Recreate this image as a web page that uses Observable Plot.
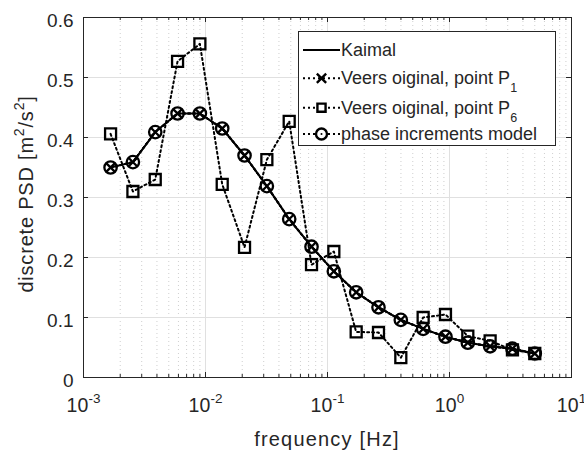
<!DOCTYPE html>
<html><head><meta charset="utf-8">
<script src="https://cdn.jsdelivr.net/npm/d3@7"></script>
<script src="https://cdn.jsdelivr.net/npm/@observablehq/plot@0.6"></script>
<style>body{margin:0;background:#fff} svg{display:block}</style>
</head><body><div id="chart"></div>
<script>
// ---- data ----
const freq = [0.001667, 0.002541, 0.003873, 0.005902, 0.008995, 0.01371, 0.02089, 0.03184, 0.04853, 0.07396,
              0.1127, 0.1718, 0.2618, 0.3990, 0.6081, 0.9268, 1.413, 2.153, 3.281, 5.0];
const kaimal   = [0.350, 0.359, 0.409, 0.440, 0.440, 0.415, 0.370, 0.319, 0.264, 0.218,
                  0.177, 0.142, 0.117, 0.096, 0.081, 0.068, 0.058, 0.052, 0.048, 0.040];
const veersP1  = [0.350, 0.359, 0.409, 0.440, 0.440, 0.415, 0.370, 0.319, 0.264, 0.218,
                  0.177, 0.142, 0.117, 0.096, 0.081, 0.068, 0.058, 0.052, 0.048, 0.040];
const veersP6  = [0.406, 0.310, 0.330, 0.527, 0.556, 0.322, 0.217, 0.363, 0.427, 0.188,
                  0.210, 0.076, 0.075, 0.033, 0.100, 0.105, 0.069, 0.061, 0.046, 0.040];
const phaseInc = [0.350, 0.359, 0.409, 0.440, 0.440, 0.415, 0.370, 0.319, 0.264, 0.218,
                  0.177, 0.142, 0.117, 0.096, 0.081, 0.068, 0.058, 0.052, 0.048, 0.040];
const xMajorTicks = [0.001, 0.01, 0.1, 1, 10];
const xTickExponents = ["-3", "-2", "-1", "0", "1"];
const xMinorTicks = [2,3,4,5,6,7,8,9].flatMap(m => [0.001, 0.01, 0.1, 1].map(d => m * d));
const yTicks = [0, 0.1, 0.2, 0.3, 0.4, 0.5, 0.6];
const yTickLabels = ["0", "0.1", "0.2", "0.3", "0.4", "0.5", "0.6"];
const legendNames = ["Kaimal", "Veers oiginal, point P", "Veers oiginal, point P", "phase increments model"];
const legendSubs = ["", "1", "6", ""];
const xLabel = "frequency [Hz]";

const rows = vals => freq.map((f, i) => ({f, v: vals[i]}));

// ---- layout ----
const W = 584, H = 451, mL = 83, mR = 13, mT = 17, mB = 74;
const innerW = W - mL - mR, innerH = H - mT - mB;
const FONT = "'Liberation Sans', Arial, Helvetica, sans-serif";
const ink = "#262626";
const dots = "2,3";

const plot = Plot.plot({
  width: W, height: H,
  marginLeft: mL, marginRight: mR, marginTop: mT, marginBottom: mB,
  style: {fontFamily: FONT, fontSize: "19px", color: ink, background: "#fff", overflow: "visible"},
  x: {type: "log", domain: [0.001, 10]},
  y: {domain: [0, 0.6]},
  marks: [
    Plot.ruleX(xMinorTicks, {stroke: "#cfcfcf", strokeWidth: 1, strokeDasharray: "1,3"}),
    Plot.ruleX(xMajorTicks, {stroke: "#e0e0e0", strokeWidth: 1}),
    Plot.ruleY(yTicks, {stroke: "#e0e0e0", strokeWidth: 1}),
    // inward ticks
    Plot.tickX(xMajorTicks, {x: d => d, stroke: ink, insetTop: innerH - 5}),
    Plot.tickX(xMajorTicks, {x: d => d, stroke: ink, insetBottom: innerH - 5}),
    Plot.tickX(xMinorTicks, {x: d => d, stroke: ink, insetTop: innerH - 3}),
    Plot.tickX(xMinorTicks, {x: d => d, stroke: ink, insetBottom: innerH - 3}),
    Plot.tickY(yTicks, {y: d => d, stroke: ink, insetRight: innerW - 5}),
    Plot.tickY(yTicks, {y: d => d, stroke: ink, insetLeft: innerW - 5}),
    Plot.axisX(xMajorTicks, {tickSize: 0, tickPadding: 21, fontSize: 19.5,
      tickFormat: d => "10^" + xTickExponents[xMajorTicks.indexOf(d)], label: null}),
    Plot.axisY(yTicks, {tickSize: 0, tickPadding: 10, fontSize: 19, dy: 3,
      tickFormat: d => yTickLabels[yTicks.indexOf(d)], label: null}),
    Plot.frame({stroke: ink, strokeWidth: 1}),
    // series
    Plot.line(rows(kaimal), {x: "f", y: "v", stroke: "#000", strokeWidth: 2}),
    Plot.line(rows(veersP1), {x: "f", y: "v", stroke: "#000", strokeWidth: 2, strokeDasharray: dots}),
    Plot.dot(rows(veersP1), {x: "f", y: "v", symbol: "times", r: 4.3, stroke: "#000", strokeWidth: 2.3}),
    Plot.line(rows(veersP6), {x: "f", y: "v", stroke: "#000", strokeWidth: 2, strokeDasharray: dots}),
    Plot.dot(rows(veersP6), {x: "f", y: "v", symbol: "square", r: 6.2, stroke: "#000", strokeWidth: 2.3, fill: "none"}),
    Plot.line(rows(phaseInc), {x: "f", y: "v", stroke: "#000", strokeWidth: 2, strokeDasharray: dots}),
    Plot.dot(rows(phaseInc), {x: "f", y: "v", symbol: "circle", r: 6.2, stroke: "#000", strokeWidth: 2.3, fill: "none"})
  ]
});

const svg = d3.select(plot);

// superscript x tick labels
svg.selectAll("g[aria-label='x-axis tick label'] text").each(function() {
  const t = d3.select(this);
  const parts = t.text().split("^");
  t.text(null);
  t.append("tspan").attr("letter-spacing", 0.2).text(parts[0]);
  t.append("tspan").attr("dy", -9.4).attr("font-size", 13.5).text(parts[1]);
});

// axis titles
svg.append("text")
  .attr("x", (mL + W - mR) / 2).attr("y", 446)
  .attr("text-anchor", "middle").attr("font-family", FONT).attr("font-size", 20)
  .attr("letter-spacing", 1.2).attr("fill", ink)
  .text(xLabel);

const yl = svg.append("text")
  .attr("transform", `translate(33,194) rotate(-90)`)
  .attr("text-anchor", "middle").attr("font-family", FONT).attr("font-size", 20)
  .attr("letter-spacing", 0.8).attr("fill", ink);
yl.append("tspan").text("discrete PSD [m");
yl.append("tspan").attr("dy", -9).attr("font-size", 14).text("2");
yl.append("tspan").attr("dy", 9).text("/s");
yl.append("tspan").attr("dy", -9).attr("font-size", 14).text("2");
yl.append("tspan").attr("dy", 9).text("]");

// legend
const lg = svg.append("g").attr("font-family", FONT).attr("font-size", 18).attr("fill", ink)
  .attr("text-anchor", "start");
lg.append("rect").attr("x", 298.5).attr("y", 31.5).attr("width", 257).attr("height", 114)
  .attr("fill", "#fff").attr("stroke", ink).attr("stroke-width", 1);
const rowY = [50, 78.3, 107.7, 134];
const x0 = 303, x1 = 340, xm = 321.5;
legendNames.forEach((name, i) => {
  const y = rowY[i];
  lg.append("line").attr("x1", x0).attr("x2", x1).attr("y1", y).attr("y2", y)
    .attr("stroke", "#000").attr("stroke-width", 2)
    .attr("stroke-dasharray", i === 0 ? null : dots);
  if (i === 1) {
    lg.append("path").attr("d", d3.symbol(d3.symbolTimes, Math.PI * 4.3 * 4.3)())
      .attr("transform", `translate(${xm},${y})`).attr("stroke", "#000").attr("stroke-width", 2.4).attr("fill", "none");
  } else if (i === 2) {
    lg.append("path").attr("d", d3.symbol(d3.symbolSquare, Math.PI * 4.6 * 4.6)())
      .attr("transform", `translate(${xm},${y})`).attr("stroke", "#000").attr("stroke-width", 2.4).attr("fill", "#fff");
  } else if (i === 3) {
    lg.append("circle").attr("cx", xm).attr("cy", y).attr("r", 5.5)
      .attr("stroke", "#000").attr("stroke-width", 2.4).attr("fill", "#fff");
    lg.append("circle").attr("cx", xm).attr("cy", y).attr("r", 1).attr("fill", "#000");
  }
  const t = lg.append("text").attr("x", 341).attr("y", y + 6);
  t.append("tspan").text(name);
  if (legendSubs[i]) t.append("tspan").attr("dy", 8).attr("font-size", 12.5).text(legendSubs[i]);
});

document.getElementById("chart").appendChild(plot);
</script>
</body></html>
